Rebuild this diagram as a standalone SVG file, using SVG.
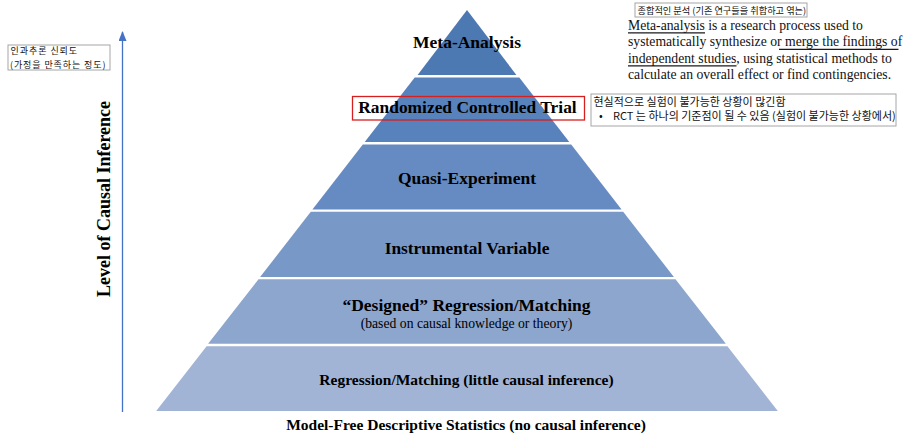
<svg xmlns="http://www.w3.org/2000/svg" width="911" height="440" viewBox="0 0 911 440">
  <defs>
    <marker id="arrowHead" markerWidth="10" markerHeight="8" refX="9" refY="4" orient="auto" markerUnits="userSpaceOnUse">
      <path d="M0,0 L10,4 L0,8 Z" fill="#4472C4"/>
    </marker>
  </defs>
  <style>
    .lbl { font-family: "Liberation Serif", "Times New Roman", serif; font-weight: bold; fill: #000; text-anchor: middle; }
    .sub { font-family: "Liberation Serif", "Times New Roman", serif; fill: #000; text-anchor: middle; }
    .para { font-family: "Liberation Serif", "Times New Roman", serif; font-size: 13.7px; fill: #111; }
    .ko { font-family: "Noto Sans CJK KR", "Noto Sans", sans-serif; fill: #111; }
    .note { fill: #fff; stroke: #a6a6a6; stroke-width: 1; }
    .ul { stroke: #1a1a1a; stroke-width: 1.3; }
  </style>
  <rect width="911" height="440" fill="#fff"/>

  <g id="connectors">
    <line x1="122.5" y1="412" x2="122.5" y2="32" stroke="#4472C4" stroke-width="1.3" marker-end="url(#arrowHead)"/>
  </g>

  <g id="axis-label">
    <text class="lbl" font-size="18" transform="translate(110,199) rotate(-90)">Level of Causal Inference</text>
  </g>

  <g id="note-causal-reliability">
    <rect class="note" x="8" y="45" width="102" height="25"/>
    <text class="ko" font-size="9" letter-spacing="0.95" x="10.5" y="54.3">인과추론 신뢰도</text>
    <text class="ko" font-size="9" letter-spacing="0.9" x="10" y="67.5">(가정을 만족하는 정도)</text>
  </g>

  <g id="layer-meta-analysis">
    <polygon points="467,10 516.4,75 417.6,75" fill="#4D79B3"/>
    <text class="lbl" font-size="17.5" x="467" y="48">Meta-Analysis</text>
  </g>

  <g id="layer-rct">
    <polygon points="414.7,77.5 519.3,77.5 569.3,142 364.7,142" fill="#5882BC"/>
    <rect x="352.5" y="96.5" width="232" height="23.5" fill="none" stroke="#d62020" stroke-width="1.3"/>
    <text class="lbl" font-size="17.4" x="467.5" y="112.5">Randomized Controlled Trial</text>
  </g>

  <g id="layer-quasi-experiment">
    <polygon points="362.8,144.5 571.2,144.5 621.6,209.5 312.4,209.5" fill="#668BC2"/>
    <text class="lbl" font-size="17.5" x="467" y="184">Quasi-Experiment</text>
  </g>

  <g id="layer-instrumental-variable">
    <polygon points="310.8,211.8 623.2,211.8 673.9,277 260.1,277" fill="#7898C7"/>
    <text class="lbl" font-size="17.4" x="467" y="254">Instrumental Variable</text>
  </g>

  <g id="layer-designed-regression">
    <polygon points="258.5,279.2 675.5,279.2 725.9,343.8 208.1,343.8" fill="#8CA6CE"/>
    <text class="lbl" font-size="17.5" x="466.5" y="310.5">“Designed” Regression/Matching</text>
    <text class="sub" font-size="13.7" x="466.5" y="327.5">(based on causal knowledge or theory)</text>
  </g>

  <g id="layer-regression">
    <polygon points="206.6,346.2 727.4,346.2 777.8,411 156.2,411" fill="#A1B4D6"/>
    <text class="lbl" font-size="15.5" x="466.5" y="385">Regression/Matching (little causal inference)</text>
  </g>

  <g id="base-label">
    <text class="lbl" font-size="15.5" x="466" y="430">Model-Free Descriptive Statistics (no causal inference)</text>
  </g>

  <g id="note-meta-korean">
    <rect class="note" x="635" y="3" width="172" height="14"/>
    <text class="ko" font-size="9.2" x="637.5" y="13.5">종합적인 분석 (기존 연구들을 취합하고 엮는)</text>
  </g>

  <g id="note-meta-definition">
    <text class="para" x="628" y="29.5">Meta-analysis is a research process used to</text>
    <text class="para" x="628" y="46">systematically synthesize or merge the findings of</text>
    <text class="para" x="628" y="62.5">independent studies, using statistical methods to</text>
    <text class="para" x="628" y="79">calculate an overall effect or find contingencies.</text>
    <line class="ul" x1="628" y1="32.8" x2="705" y2="32.8"/>
    <line class="ul" x1="779" y1="49.3" x2="898.5" y2="49.3"/>
    <line class="ul" x1="628" y1="65.8" x2="736.5" y2="65.8"/>
  </g>

  <g id="note-rct">
    <rect class="note" x="591" y="94" width="305" height="32"/>
    <text class="ko" font-size="11" x="593.5" y="105.5">현실적으로 실험이 불가능한 상황이 많긴함</text>
    <text class="ko" font-size="11" x="599" y="120">•</text>
    <text class="ko" font-size="11" x="613" y="120">RCT 는 하나의 기준점이 될 수 있음 (실험이 불가능한 상황에서)</text>
  </g>
</svg>
